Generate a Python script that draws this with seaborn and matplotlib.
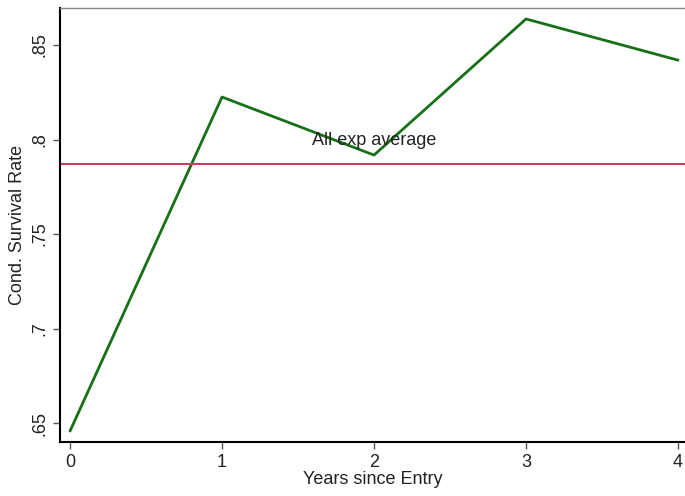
import numpy as np
import pandas as pd
import seaborn as sns
import matplotlib
matplotlib.use('Agg')
import matplotlib.pyplot as plt

# values
years = [0, 1, 2, 3, 4]
survival = [0.6458, 0.8225, 0.7918, 0.8638, 0.8420]
avg_all = 0.7873
avg_label = "All exp average"

df = pd.DataFrame({'years': years, 'survival': survival})

sns.set_style('white')
plt.rcParams['font.family'] = ['Liberation Sans', 'DejaVu Sans']

fig = plt.figure(figsize=(6.85, 4.96), dpi=100)
ax = fig.add_axes([60 / 685, 54 / 496, 625 / 685, 434 / 496])

sns.lineplot(x='years', y='survival', data=df, color='#177017', linewidth=2, ax=ax)
ax.axhline(avg_all, color='#d03a5c', linewidth=1.5)
ax.text(2, 0.7995, avg_label, ha='center', va='center', fontsize=13, color='#222222')

ax.set_xlim(-0.066, 4.046)
ax.set_ylim(0.640, 0.8696)
ax.set_xticks(years)
ax.set_yticks([0.65, 0.7, 0.75, 0.8, 0.85])
ax.set_yticklabels(['.65', '.7', '.75', '.8', '.85'], rotation=90, va='center')
ax.tick_params(axis='both', length=5, width=1, color='#555555', labelsize=13, labelcolor='#222222', left=True, bottom=True)
ax.set_xlabel('Years since Entry', fontsize=13, color='#222222', labelpad=0)
ax.set_ylabel('Cond. Survival Rate', fontsize=13, color='#222222', labelpad=4)

for side in ['left', 'bottom']:
    ax.spines[side].set_color('black')
    ax.spines[side].set_linewidth(1.5)
ax.spines['top'].set_color('#888888')
ax.spines['top'].set_linewidth(1)
ax.spines['right'].set_visible(False)

fig.savefig('out.png', dpi=100)
